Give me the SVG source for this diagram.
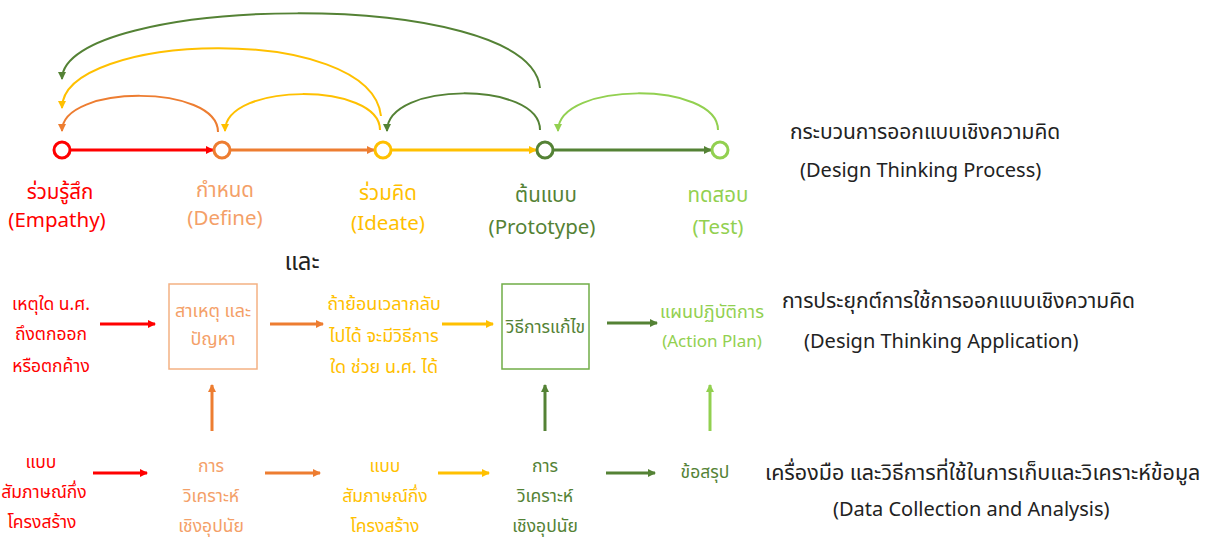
<svg xmlns="http://www.w3.org/2000/svg" width="1211" height="539" viewBox="0 0 1211 539">
<style>
text{font-family:"Noto Sans Thai","Noto Sans","Liberation Sans",sans-serif;text-anchor:middle}
.lbl{font-size:20.5px}
.t{font-size:18px}
.b{font-size:17.5px}
.hd{font-size:21px;fill:#222;text-anchor:start}
.he{font-size:20px;fill:#222;text-anchor:start}
.red{fill:#FF0000}.org{fill:#F4A068}.yel{fill:#FFC000}.dg{fill:#548235}.lg{fill:#92D050}
.node circle{fill:#fff;stroke-width:3}
.c{fill:none}
</style>
<defs>
<marker id="mR" markerWidth="8" markerHeight="8" refX="7" refY="4" orient="auto" markerUnits="userSpaceOnUse"><path d="M0,0L8,4L0,8z" fill="#FF0000"/></marker>
<marker id="mO" markerWidth="8" markerHeight="8" refX="7" refY="4" orient="auto" markerUnits="userSpaceOnUse"><path d="M0,0L8,4L0,8z" fill="#ED7D31"/></marker>
<marker id="mY" markerWidth="8" markerHeight="8" refX="7" refY="4" orient="auto" markerUnits="userSpaceOnUse"><path d="M0,0L8,4L0,8z" fill="#FFC000"/></marker>
<marker id="mD" markerWidth="8" markerHeight="8" refX="7" refY="4" orient="auto" markerUnits="userSpaceOnUse"><path d="M0,0L8,4L0,8z" fill="#548235"/></marker>
<marker id="mL" markerWidth="8" markerHeight="8" refX="7" refY="4" orient="auto" markerUnits="userSpaceOnUse"><path d="M0,0L8,4L0,8z" fill="#92D050"/></marker>
</defs>

<g id="connectors" class="c">
<line x1="71" y1="150" x2="213" y2="150" stroke="#FF0000" stroke-width="3" marker-end="url(#mR)"/>
<line x1="231" y1="150" x2="374" y2="150" stroke="#ED7D31" stroke-width="3" marker-end="url(#mO)"/>
<line x1="392" y1="150" x2="536" y2="150" stroke="#FFC000" stroke-width="3" marker-end="url(#mY)"/>
<line x1="554" y1="150" x2="711" y2="150" stroke="#548235" stroke-width="3" marker-end="url(#mD)"/>
<path d="M218,132 C218,84 62,84 62,131" stroke="#ED7D31" stroke-width="2" marker-end="url(#mO)"/>
<path d="M380,130 C380,82 225,82 225,131" stroke="#FFC000" stroke-width="2" marker-end="url(#mY)"/>
<path d="M540,130 C540,81 387,81 387,131" stroke="#548235" stroke-width="2" marker-end="url(#mD)"/>
<path d="M718,130 C718,81 558,81 558,131" stroke="#92D050" stroke-width="2" marker-end="url(#mL)"/>
<path d="M381,116 C370,22 62,32 62,108" stroke="#FFC000" stroke-width="2" marker-end="url(#mY)"/>
<path d="M540,88 C530,-15 62,-5 62,79" stroke="#548235" stroke-width="2" marker-end="url(#mD)"/>
<line x1="100" y1="324" x2="155" y2="324" stroke="#FF0000" stroke-width="3" marker-end="url(#mR)"/>
<line x1="270" y1="324" x2="323" y2="324" stroke="#ED7D31" stroke-width="3" marker-end="url(#mO)"/>
<line x1="442" y1="324" x2="493" y2="324" stroke="#FFC000" stroke-width="3" marker-end="url(#mY)"/>
<line x1="607" y1="323" x2="657" y2="323" stroke="#548235" stroke-width="3" marker-end="url(#mD)"/>
<line x1="212" y1="431" x2="212" y2="385" stroke="#ED7D31" stroke-width="3" marker-end="url(#mO)"/>
<line x1="545" y1="431" x2="545" y2="385" stroke="#548235" stroke-width="3" marker-end="url(#mD)"/>
<line x1="710" y1="431" x2="710" y2="385" stroke="#92D050" stroke-width="3" marker-end="url(#mL)"/>
<line x1="93" y1="473" x2="147" y2="473" stroke="#FF0000" stroke-width="3" marker-end="url(#mR)"/>
<line x1="265" y1="473" x2="320" y2="473" stroke="#ED7D31" stroke-width="3" marker-end="url(#mO)"/>
<line x1="438" y1="473" x2="489" y2="473" stroke="#FFC000" stroke-width="3" marker-end="url(#mY)"/>
<line x1="606" y1="473" x2="655" y2="473" stroke="#548235" stroke-width="3" marker-end="url(#mD)"/>
</g>

<g id="empathy" class="node"><circle cx="62" cy="150" r="8" stroke="#FF0000"/><text class="lbl red" x="60" y="199">ร่วมรู้สึก</text><text class="lbl red" x="57" y="227">(Empathy)</text></g>
<g id="define" class="node"><circle cx="222" cy="150" r="8" stroke="#ED7D31"/><text class="lbl org" x="225" y="197">กำหนด</text><text class="lbl org" x="225" y="225">(Define)</text></g>
<g id="ideate" class="node"><circle cx="383" cy="150" r="8" stroke="#FFC000"/><text class="lbl yel" x="388" y="200">ร่วมคิด</text><text class="lbl yel" x="388" y="230">(Ideate)</text></g>
<g id="prototype" class="node"><circle cx="545" cy="150" r="8" stroke="#548235"/><text class="lbl dg" x="546" y="202">ต้นแบบ</text><text class="lbl dg" x="542" y="234">(Prototype)</text></g>
<g id="test" class="node"><circle cx="720" cy="150" r="8" stroke="#92D050"/><text class="lbl lg" x="718" y="202">ทดสอบ</text><text class="lbl lg" x="718" y="234">(Test)</text></g>

<g id="and"><text x="302" y="270" style="font-size:24px;fill:#222">และ</text></g>

<g id="why"><text class="b red" x="51" y="310">เหตุใด น.ศ.</text><text class="b red" x="51" y="340">ถึงตกออก</text><text class="b red" x="51" y="372">หรือตกค้าง</text></g>
<g id="causes"><rect x="169" y="284" width="88" height="85" fill="none" stroke="#F4B183" stroke-width="1.5"/><text class="t org" x="213" y="317">สาเหตุ และ</text><text class="t org" x="213" y="345">ปัญหา</text></g>
<g id="ifback"><text class="t yel" x="384" y="310">ถ้าย้อนเวลากลับ</text><text class="t yel" x="384" y="342">ไปได้ จะมีวิธีการ</text><text class="t yel" x="384" y="373">ใด ช่วย น.ศ. ได้</text></g>
<g id="solution"><rect x="502" y="284" width="87" height="85" fill="none" stroke="#70AD47" stroke-width="1.5"/><text class="t dg" x="545.5" y="333" style="font-size:17.5px">วิธีการแก้ไข</text></g>
<g id="plan"><text class="t lg" x="712" y="318">แผนปฏิบัติการ</text><text class="t lg" x="712" y="347" style="font-size:17px">(Action Plan)</text></g>

<g id="interview1"><text class="b red" x="41" y="468">แบบ</text><text class="b red" x="44" y="498">สัมภาษณ์กึ่ง</text><text class="b red" x="42" y="528">โครงสร้าง</text></g>
<g id="analysis1"><text class="b org" x="211" y="472">การ</text><text class="b org" x="211" y="502">วิเคราะห์</text><text class="b org" x="211" y="532">เชิงอุปนัย</text></g>
<g id="interview2"><text class="b yel" x="385" y="472">แบบ</text><text class="b yel" x="385" y="502">สัมภาษณ์กึ่ง</text><text class="b yel" x="385" y="532">โครงสร้าง</text></g>
<g id="analysis2"><text class="b dg" x="545" y="472">การ</text><text class="b dg" x="545" y="502">วิเคราะห์</text><text class="b dg" x="545" y="532">เชิงอุปนัย</text></g>
<g id="conclusion"><text class="b dg" x="705" y="478">ข้อสรุป</text></g>

<g id="h1"><text class="hd" x="790" y="139">กระบวนการออกแบบเชิงความคิด</text><text class="he" x="800" y="177">(Design Thinking Process)</text></g>
<g id="h2"><text class="hd" x="782" y="308">การประยุกต์การใช้การออกแบบเชิงความคิด</text><text class="he" x="804" y="348">(Design Thinking Application)</text></g>
<g id="h3"><text class="hd" x="765" y="480" style="font-size:21.5px">เครื่องมือ และวิธีการที่ใช้ในการเก็บและวิเคราะห์ข้อมูล</text><text class="he" x="833" y="516">(Data Collection and Analysis)</text></g>
</svg>
